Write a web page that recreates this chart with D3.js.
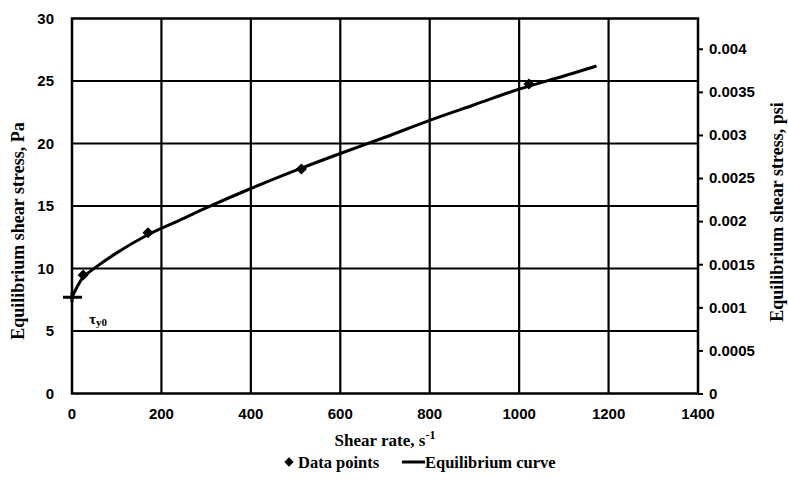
<!DOCTYPE html>
<html>
<head>
<meta charset="utf-8">
<script src="https://cdn.jsdelivr.net/npm/d3@7"></script>
<style>
  html, body { margin: 0; padding: 0; background: #fff; }
  svg { display: block; }
  .tick-label { font-family: "Liberation Sans", Arial, sans-serif; font-weight: bold; font-size: 15px; fill: #000; }
  .title { font-family: "Liberation Serif", "Times New Roman", serif; font-weight: bold; fill: #000; }
</style>
</head>
<body>
<svg id="chart" width="788" height="489"></svg>
<script>
// Measured equilibrium shear stress (Pa) at viscometer shear rates (1/s)
const pointRates = [25, 170, 513, 1022];
const pointStress = [9.48, 12.86, 17.96, 24.76];

// Fitted equilibrium curve, sampled along shear rate
const curveRates  = [0, 6, 14, 25, 55, 100, 170, 240, 300, 400, 500, 600, 700, 800, 900, 1000, 1100, 1173];
const curveStress = [7.7, 8.15, 8.7, 9.3, 10.15, 11.25, 12.7, 13.85, 14.85, 16.4, 17.85, 19.2, 20.5, 21.85, 23.1, 24.35, 25.4, 26.2];

// Yield stress marker
const yieldRate = 0;
const yieldStress = 7.7;

const xTicks = [0, 200, 400, 600, 800, 1000, 1200, 1400];
const yTicks = [0, 5, 10, 15, 20, 25, 30];
const yPsiTicks = [0, 0.0005, 0.001, 0.0015, 0.002, 0.0025, 0.003, 0.0035, 0.004];
const PA_TO_PSI = 0.000145038;

const svg = d3.select("#chart");
const plotL = 72, plotR = 698, plotT = 18.5, plotB = 393.5;

const x = d3.scaleLinear().domain([0, 1400]).range([plotL, plotR]);
const y = d3.scaleLinear().domain([0, 30]).range([plotB, plotT]);
const yPsi = d3.scaleLinear().domain([0, 30 * PA_TO_PSI]).range([plotB, plotT]);

// Grid
const grid = svg.append("g").attr("stroke", "#000").attr("stroke-width", 2.2);
grid.selectAll("line.v").data(xTicks.slice(1, -1)).join("line").attr("class", "v")
  .attr("x1", d => x(d)).attr("x2", d => x(d)).attr("y1", plotT).attr("y2", plotB);
grid.selectAll("line.h").data(yTicks.slice(1, -1)).join("line").attr("class", "h")
  .attr("x1", plotL).attr("x2", plotR).attr("y1", d => y(d)).attr("y2", d => y(d));

// Plot frame
svg.append("rect").attr("x", plotL).attr("y", plotT)
  .attr("width", plotR - plotL).attr("height", plotB - plotT)
  .attr("fill", "none").attr("stroke", "#000").attr("stroke-width", 2.5);

// Bottom axis labels
svg.append("g").selectAll("text").data(xTicks).join("text")
  .attr("class", "tick-label")
  .attr("x", d => x(d)).attr("y", plotB + 25)
  .attr("text-anchor", "middle").text(d => d);

// Left axis labels
svg.append("g").selectAll("text").data(yTicks).join("text")
  .attr("class", "tick-label")
  .attr("x", 54).attr("y", d => y(d) + 5)
  .attr("text-anchor", "end").text(d => d);

// Right axis (psi) with outward ticks
const rightAxis = d3.axisRight(yPsi).tickValues(yPsiTicks).tickSize(5).tickPadding(6)
  .tickFormat(d => d === 0 ? "0" : String(+d.toFixed(4)));
const ra = svg.append("g").attr("transform", `translate(${plotR},0)`).call(rightAxis);
ra.select(".domain").remove();
ra.selectAll("line").attr("stroke", "#000").attr("stroke-width", 2);
ra.selectAll("text").attr("class", "tick-label").attr("fill", "#000");

// Axis titles
svg.append("text").attr("class", "title").attr("font-size", 17)
  .attr("x", 385).attr("y", 446).attr("text-anchor", "middle")
  .text("Shear rate, s").append("tspan").attr("dy", -7).attr("font-size", 12).text("-1");

svg.append("text").attr("class", "title").attr("font-size", 18)
  .attr("transform", "translate(24,231) rotate(-90)").attr("text-anchor", "middle")
  .text("Equilibrium shear stress, Pa");

svg.append("text").attr("class", "title").attr("font-size", 18)
  .attr("transform", "translate(783,212) rotate(-90)").attr("text-anchor", "middle")
  .text("Equilibrium shear stress, psi");

// Equilibrium curve
const line = d3.line().x(d => x(d[0])).y(d => y(d[1])).curve(d3.curveCatmullRom.alpha(0.5));
svg.append("path").datum(curveRates.map((r, i) => [r, curveStress[i]]))
  .attr("d", line).attr("fill", "none").attr("stroke", "#000").attr("stroke-width", 3);

// Data points (diamonds)
const diamond = d3.symbol().type(d3.symbolSquare).size(62);
svg.append("g").selectAll("path").data(pointRates.map((r, i) => [r, pointStress[i]])).join("path")
  .attr("d", diamond)
  .attr("transform", d => `translate(${x(d[0])},${y(d[1])}) rotate(45)`)
  .attr("fill", "#000");

// Yield stress cross and label
const yx = x(yieldRate), yy = y(yieldStress);
svg.append("path")
  .attr("d", `M${yx - 9},${yy}H${yx + 10}M${yx},${yy - 5}V${yy + 5}`)
  .attr("stroke", "#000").attr("stroke-width", 3).attr("fill", "none");
const tl = svg.append("text").attr("class", "title").attr("font-size", 15)
  .attr("x", 89).attr("y", 324).text("τ");
tl.append("tspan").attr("dy", 2).attr("font-size", 11).text("y0");

// Legend
const lg = svg.append("g");
lg.append("path").attr("d", d3.symbol().type(d3.symbolSquare).size(44))
  .attr("transform", "translate(289,462) rotate(45)").attr("fill", "#000");
lg.append("text").attr("class", "title").attr("font-size", 16.5)
  .attr("x", 298).attr("y", 468).text("Data points");
lg.append("line").attr("x1", 402).attr("x2", 425).attr("y1", 462).attr("y2", 462)
  .attr("stroke", "#000").attr("stroke-width", 3);
lg.append("text").attr("class", "title").attr("font-size", 16.5)
  .attr("x", 425).attr("y", 468).text("Equilibrium curve");
</script>
</body>
</html>
